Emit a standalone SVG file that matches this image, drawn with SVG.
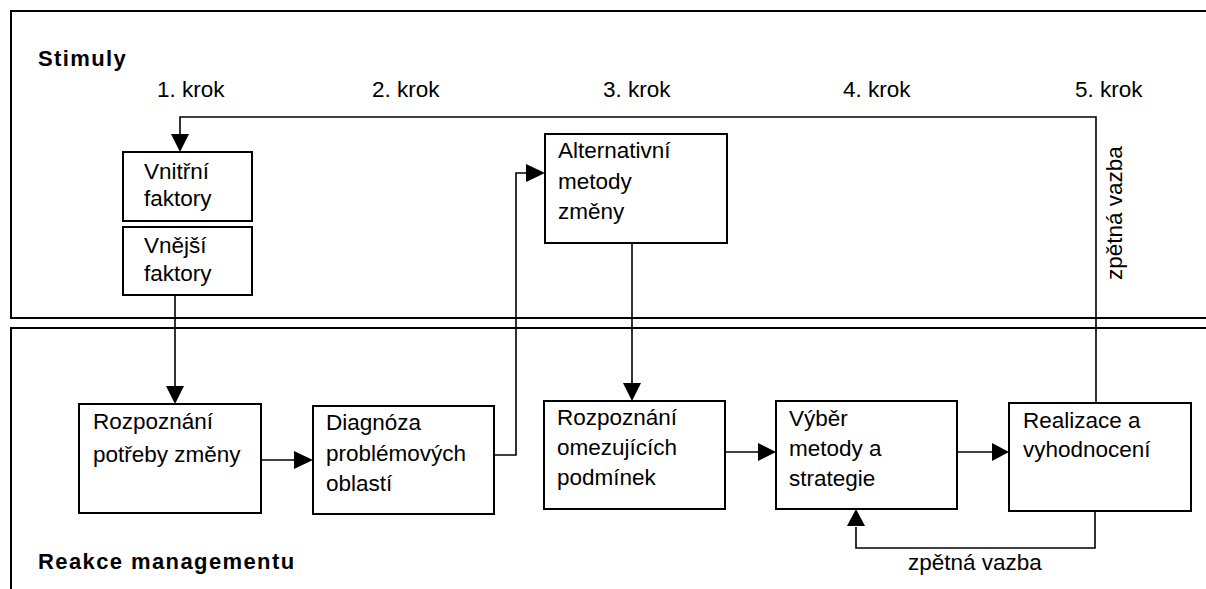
<svg xmlns="http://www.w3.org/2000/svg" width="1206" height="589" viewBox="0 0 1206 589">
<style>
.panel{fill:none;stroke:#000;stroke-width:2}
.box{fill:#fff;stroke:#000;stroke-width:2}
.t{font-family:"Liberation Sans",Arial,sans-serif;font-size:22.5px;fill:#000}
.b{font-family:"Liberation Sans",Arial,sans-serif;font-size:22px;font-weight:bold;letter-spacing:1.4px;fill:#000}
.c{fill:none;stroke:#000;stroke-width:1.6}
.ah{fill:#000}
</style>
<rect width="1206" height="589" fill="#fff"/>
<g id="panels">
<path class="panel" d="M1210 11 H11 V318 H1210"/>
<path class="panel" d="M1210 328 H11 V595"/>
</g>
<g id="labels">
<text class="b" x="38" y="65.5">Stimuly</text>
<text class="b" x="38" y="568.5">Reakce managementu</text>
<text class="t" x="157" y="96.5">1. krok</text>
<text class="t" x="372" y="96.5">2. krok</text>
<text class="t" x="603" y="96.5">3. krok</text>
<text class="t" x="843" y="96.5">4. krok</text>
<text class="t" x="1075" y="96.5">5. krok</text>
</g>
<g id="connectors">
<path class="c" d="M1096 402 V117 H180 V136"/>
<polygon class="ah" points="171,134 189,134 180,152"/>
<path class="c" d="M175 295 V388"/>
<polygon class="ah" points="166,386 184,386 175,404"/>
<path class="c" d="M258 460 H296"/>
<polygon class="ah" points="294,451 294,469 313,460"/>
<path class="c" d="M493 455 H516 V173 H528"/>
<polygon class="ah" points="526,164 526,182 545,173"/>
<path class="c" d="M632 242 V384"/>
<polygon class="ah" points="623,383 641,383 632,401"/>
<path class="c" d="M724 452 H760"/>
<polygon class="ah" points="758,443 758,461 776,452"/>
<path class="c" d="M957 452 H994"/>
<polygon class="ah" points="992,443 992,461 1009,452"/>
<path class="c" d="M1095 511 V548 H856 V527"/>
<polygon class="ah" points="847,526 865,526 856,509"/>
<text class="t" x="908" y="570">zpětná vazba</text>
<text class="t" transform="translate(1121.5,280) rotate(-90)" x="0" y="0">zpětná vazba</text>
</g>
<g id="n-vnitrni">
<rect class="box" x="123" y="152" width="129" height="69"/>
<text class="t" x="144" y="178.5">Vnitřní</text>
<text class="t" x="144" y="206">faktory</text>
</g>
<g id="n-vnejsi">
<rect class="box" x="123" y="227" width="129" height="68"/>
<text class="t" x="144" y="253">Vnější</text>
<text class="t" x="144" y="281">faktory</text>
</g>
<g id="n-alternativni">
<rect class="box" x="545" y="134" width="182" height="109"/>
<text class="t" x="558" y="158">Alternativní</text>
<text class="t" x="558" y="188.5">metody</text>
<text class="t" x="558" y="219">změny</text>
</g>
<g id="n-rozpoznani-potreby">
<rect class="box" x="79" y="404" width="182" height="109"/>
<text class="t" x="93" y="428.5">Rozpoznání</text>
<text class="t" x="93" y="462">potřeby změny</text>
</g>
<g id="n-diagnoza">
<rect class="box" x="313" y="406" width="181" height="108"/>
<text class="t" x="326" y="430">Diagnóza</text>
<text class="t" x="326" y="460.5">problémových</text>
<text class="t" x="326" y="491">oblastí</text>
</g>
<g id="n-rozpoznani-omezujicich">
<rect class="box" x="544" y="401" width="181" height="108"/>
<text class="t" x="557" y="425">Rozpoznání</text>
<text class="t" x="557" y="455">omezujících</text>
<text class="t" x="557" y="485">podmínek</text>
</g>
<g id="n-vyber">
<rect class="box" x="776" y="401" width="181" height="108"/>
<text class="t" x="789" y="426">Výběr</text>
<text class="t" x="789" y="456">metody a</text>
<text class="t" x="789" y="485.5">strategie</text>
</g>
<g id="n-realizace">
<rect class="box" x="1009" y="403" width="182" height="108"/>
<text class="t" x="1023" y="428">Realizace a</text>
<text class="t" x="1023" y="457">vyhodnocení</text>
</g>
</svg>
